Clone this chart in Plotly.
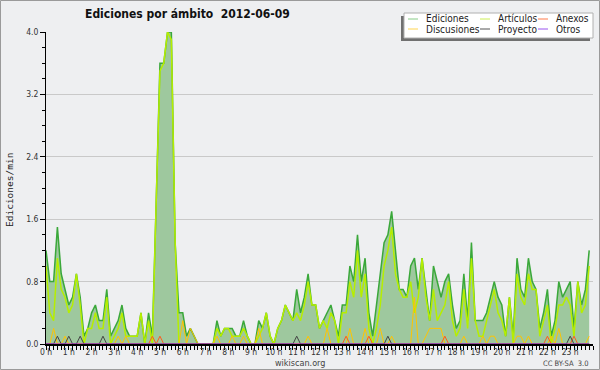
import numpy as np
import plotly.graph_objects as go

# ---- data: 10-minute samples (144 per day), values in edits/min ----
hour_labels = [f"{h} h" for h in range(24)]

ediciones = [
    1.2, 0.8, 0.8, 1.5, 0.9, 0.7, 0.5, 0.6, 0.9, 0.6, 0.1, 0.2,
    0.4, 0.5, 0.3, 0.3, 0.7, 0.1, 0.2, 0.3, 0.5, 0.2, 0.1, 0.1,
    0.1, 0.4, 0.0, 0.4, 0.1, 1.8, 3.6, 3.6, 4.0, 4.0, 1.3, 0.4,
    0.4, 0.1, 0.2, 0.1, 0.0, 0.0, 0.0, 0.0, 0.0, 0.3, 0.1, 0.2,
    0.2, 0.2, 0.1, 0.1, 0.3, 0.1, 0.0, 0.0, 0.3, 0.2, 0.4, 0.1,
    0.0, 0.2, 0.3, 0.5, 0.4, 0.3, 0.7, 0.4, 0.6, 0.9, 0.5, 0.5,
    0.2, 0.3, 0.4, 0.5, 0.3, 0.1, 0.5, 0.5, 1.0, 0.8, 1.4, 0.8,
    1.1, 0.4, 0.1, 0.5, 0.9, 1.3, 1.4, 1.7, 1.2, 0.7, 0.7, 0.6,
    1.0, 1.1, 0.7, 1.1, 0.7, 0.3, 1.0, 0.8, 0.6, 0.8, 0.9, 0.5,
    0.2, 0.3, 0.9, 0.3, 1.3, 0.3, 0.3, 0.3, 0.4, 0.6, 0.8, 0.6,
    0.5, 0.1, 0.6, 0.1, 1.1, 0.7, 0.6, 1.1, 0.8, 0.7, 0.2, 0.4,
    0.7, 0.1, 0.3, 0.8, 0.6, 0.7, 0.8, 0.2, 0.8, 0.5, 0.7, 1.2,
]

articulos = [
    1.0, 0.4, 0.3, 1.1, 0.7, 0.6, 0.4, 0.5, 0.9, 0.5, 0.0, 0.2,
    0.2, 0.4, 0.2, 0.2, 0.6, 0.0, 0.1, 0.2, 0.4, 0.1, 0.1, 0.1,
    0.1, 0.4, 0.0, 0.3, 0.0, 1.8, 3.5, 3.6, 4.0, 3.9, 1.3, 0.0,
    0.0, 0.0, 0.0, 0.0, 0.0, 0.0, 0.0, 0.0, 0.0, 0.2, 0.1, 0.2,
    0.2, 0.1, 0.1, 0.1, 0.2, 0.1, 0.0, 0.0, 0.1, 0.2, 0.4, 0.1,
    0.0, 0.2, 0.3, 0.5, 0.4, 0.3, 0.4, 0.3, 0.5, 0.8, 0.5, 0.5,
    0.2, 0.3, 0.2, 0.4, 0.3, 0.0, 0.4, 0.4, 0.8, 0.6, 1.2, 0.6,
    0.9, 0.2, 0.0, 0.2, 0.5, 1.0, 1.2, 1.5, 0.9, 0.7, 0.6, 0.6,
    0.8, 0.4, 0.6, 1.1, 0.6, 0.3, 0.7, 0.3, 0.4, 0.5, 0.8, 0.3,
    0.1, 0.2, 0.7, 0.2, 1.1, 0.3, 0.1, 0.1, 0.3, 0.5, 0.7, 0.4,
    0.3, 0.1, 0.6, 0.0, 0.9, 0.6, 0.5, 0.9, 0.7, 0.7, 0.1, 0.3,
    0.5, 0.0, 0.2, 0.5, 0.5, 0.6, 0.5, 0.1, 0.8, 0.4, 0.5, 1.0,
]

discusiones = [
    0, 0, 0.2, 0, 0, 0.1, 0, 0, 0, 0, 0, 0,
    0, 0, 0, 0, 0, 0, 0, 0.1, 0, 0.1, 0, 0,
    0, 0, 0, 0, 0, 0, 0, 0, 0, 0, 0, 0,
    0.3, 0, 0.2, 0.1, 0, 0, 0, 0, 0, 0.1, 0, 0,
    0, 0.1, 0, 0, 0.1, 0, 0, 0, 0.2, 0, 0, 0,
    0, 0, 0, 0, 0, 0, 0, 0, 0, 0.1, 0, 0,
    0, 0, 0.2, 0, 0, 0, 0, 0, 0.2, 0, 0, 0,
    0.2, 0, 0, 0, 0.2, 0, 0, 0.1, 0, 0, 0, 0,
    0, 0.6, 0, 0, 0.1, 0.2, 0.2, 0.2, 0.2, 0, 0, 0,
    0, 0, 0.1, 0, 0, 0, 0, 0.1, 0, 0.1, 0.1, 0,
    0, 0, 0, 0, 0.1, 0.1, 0, 0.1, 0, 0, 0, 0,
    0, 0.1, 0, 0.2, 0, 0, 0, 0, 0, 0, 0, 0.1,
]

anexos = [
    0, 0, 0, 0, 0, 0, 0, 0, 0, 0, 0, 0,
    0, 0, 0, 0, 0, 0, 0, 0, 0, 0, 0, 0,
    0, 0, 0, 0, 0.1, 0, 0.1, 0, 0, 0, 0, 0,
    0, 0, 0, 0, 0, 0, 0, 0, 0, 0, 0, 0,
    0, 0, 0, 0, 0, 0, 0, 0, 0, 0, 0, 0,
    0, 0, 0, 0, 0, 0, 0, 0, 0, 0, 0, 0,
    0, 0, 0, 0, 0, 0, 0, 0.1, 0, 0, 0, 0,
    0, 0.1, 0, 0, 0, 0, 0, 0, 0, 0, 0, 0,
    0, 0, 0, 0, 0, 0, 0, 0, 0, 0.1, 0, 0,
    0, 0, 0, 0, 0, 0, 0, 0, 0, 0, 0, 0,
    0, 0, 0, 0, 0, 0, 0, 0, 0, 0, 0, 0,
    0.1, 0, 0, 0, 0, 0, 0, 0.1, 0, 0, 0, 0,
]

proyecto = [
    0, 0, 0, 0.1, 0, 0, 0.1, 0, 0, 0.1, 0, 0,
    0, 0, 0, 0.1, 0, 0, 0, 0, 0, 0, 0, 0,
    0, 0, 0, 0, 0, 0, 0, 0, 0, 0, 0, 0,
    0, 0, 0, 0, 0, 0, 0, 0, 0, 0, 0, 0,
    0, 0, 0, 0, 0, 0, 0, 0, 0, 0, 0, 0,
    0, 0, 0, 0, 0, 0, 0.1, 0, 0, 0, 0, 0,
    0, 0, 0, 0, 0, 0, 0, 0, 0, 0, 0, 0,
    0, 0, 0, 0, 0, 0, 0.1, 0, 0, 0, 0, 0,
    0, 0, 0, 0, 0, 0, 0, 0, 0, 0, 0, 0,
    0, 0, 0, 0, 0, 0, 0, 0, 0, 0, 0, 0,
    0, 0, 0, 0, 0, 0, 0, 0, 0, 0, 0, 0,
    0, 0, 0, 0, 0, 0, 0.1, 0, 0, 0, 0, 0,
]

otros = [0] * 144

hours = np.arange(len(ediciones)) / 6.0  # 10-minute steps in hours

# ---- styles ----
FONT = "DejaVu Sans Condensed, DejaVu Sans"
C_ED = "#3aa83a"
C_ED_FILL = "#9ec89e"
C_ART = "#b6ee00"
C_DIS = "#ffc400"
C_ANX = "#ff5a1e"
C_PRO = "#444444"
C_OTR = "#9b30ff"

series = [
    ("Artículos", articulos, C_ART, 1.5),
    ("Discusiones", discusiones, C_DIS, 1.0),
    ("Anexos", anexos, C_ANX, 1.0),
    ("Proyecto", proyecto, C_PRO, 1.0),
    ("Otros", otros, C_OTR, 1.0),
]

fig = go.Figure()
fig.add_trace(go.Scatter(x=hours, y=ediciones, name="Ediciones", mode="lines",
                         line=dict(color=C_ED, width=1.5), fill="tozeroy",
                         fillcolor=C_ED_FILL))
for name, vals, col, w in series:
    fig.add_trace(go.Scatter(x=hours, y=vals, name=name, mode="lines",
                             line=dict(color=col, width=w)))

W, H = 600, 370
L, R, T, B = 46, 7, 32, 26
pw, ph = W - L - R, H - T - B


def px(x):
    return (x - L) / pw


def py(y):
    return (H - B - y) / ph


shapes = []
annotations = []

# outer border
shapes.append(dict(type="rect", xref="paper", yref="paper", x0=px(0.5), x1=px(W - 0.5),
                   y0=py(H - 0.5), y1=py(0.5), line=dict(color="#9a9a9a", width=1),
                   layer="below"))

# legend box with shadow
shapes.append(dict(type="rect", xref="paper", yref="paper", x0=px(401), x1=px(590),
                   y0=py(41), y1=py(16), fillcolor="#707070", line=dict(width=0)))
shapes.append(dict(type="rect", xref="paper", yref="paper", x0=px(404), x1=px(593),
                   y0=py(38), y1=py(13), fillcolor="white",
                   line=dict(color="#b0b0b0", width=1)))

legend_items = [
    ("Ediciones", "#88cc88", 408, 19),
    ("Artículos", "#ccee55", 480, 19),
    ("Anexos", "#ff7a4a", 538, 19),
    ("Discusiones", "#ffd550", 408, 29),
    ("Proyecto", "#555555", 480, 29),
    ("Otros", "#9a55ee", 538, 29),
]
for label, col, x0, y0 in legend_items:
    shapes.append(dict(type="line", xref="paper", yref="paper", x0=px(x0), x1=px(x0 + 10),
                       y0=py(y0), y1=py(y0), line=dict(color=col, width=1)))
    annotations.append(dict(xref="paper", yref="paper", x=px(x0 + 16), y=py(y0),
                            text=label, showarrow=False, xanchor="left", yanchor="middle",
                            font=dict(family=FONT, size=10, color="#222")))

# title
annotations.append(dict(xref="paper", yref="paper", x=px(187), y=py(14),
                        text="<b>Ediciones por ámbito\u00a0\u00a02012-06-09</b>",
                        showarrow=False, xanchor="center", yanchor="middle",
                        font=dict(family=FONT, size=12, color="#111")))
# y title
annotations.append(dict(xref="paper", yref="paper", x=px(9), y=py(190),
                        text="Ediciones/min", textangle=-90, showarrow=False,
                        xanchor="center", yanchor="middle",
                        font=dict(family="DejaVu Sans Mono", size=9.5, color="#222")))
# footer
annotations.append(dict(xref="paper", yref="paper", x=px(300), y=py(363),
                        text="wikiscan.org", showarrow=False, xanchor="center",
                        yanchor="middle", font=dict(family=FONT, size=9, color="#444")))
annotations.append(dict(xref="paper", yref="paper", x=px(591), y=py(363),
                        text="CC BY-SA  3.0", showarrow=False, xanchor="right",
                        yanchor="middle", font=dict(family=FONT, size=7.5, color="#444")))

fig.update_layout(
    width=W, height=H, autosize=False,
    margin=dict(l=L, r=R, t=T, b=B, pad=0),
    paper_bgcolor="#eeeff1", plot_bgcolor="#eeeff1",
    showlegend=False,
    shapes=shapes, annotations=annotations,
    xaxis=dict(range=[0, 24], tickmode="array", tickvals=list(range(24)),
               ticktext=hour_labels, ticks="outside", ticklen=4, tickwidth=1,
               tickcolor="black", showline=True, linecolor="black", linewidth=2,
               showgrid=False, zeroline=False, ticklabelstandoff=-5,
               tickfont=dict(family=FONT, size=8.5, color="#333"),
               minor=dict(tick0=0, dtick=1 / 6, ticks="outside", ticklen=4,
                          tickcolor="black", showgrid=False)),
    yaxis=dict(range=[0, 4.0], tickmode="linear", tick0=0, dtick=0.8, tickformat=".1f",
               ticks="outside", ticklen=5, tickcolor="black", showline=True,
               linecolor="black", linewidth=1, showgrid=True, gridcolor="#c9c9c9",
               gridwidth=1, zeroline=False,
               tickfont=dict(family=FONT, size=8.5, color="#333"),
               minor=dict(tick0=0, dtick=0.2, ticks="outside", ticklen=3,
                          tickcolor="black", showgrid=False)),
)

fig.write_html("out.html", config={"displayModeBar": False},
               post_script="document.body.style.margin='0px';")
